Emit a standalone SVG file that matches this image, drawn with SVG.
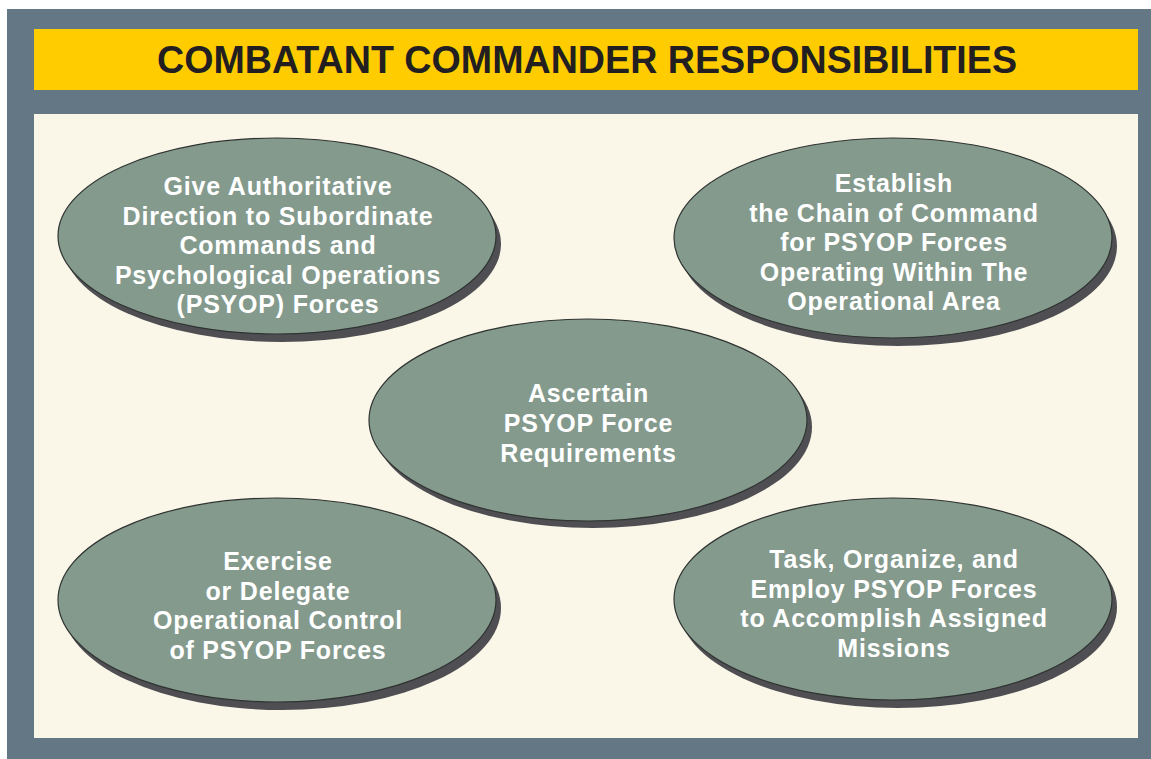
<svg xmlns="http://www.w3.org/2000/svg" width="1151" height="759" viewBox="0 0 1151 759">
<defs>
<style>
.shadow{fill:#4f4f53;}
.node{fill:#849a8d;stroke:#2f3331;stroke-width:1.2;}
.lbl{font-family:"Liberation Sans",Arial,sans-serif;font-weight:bold;font-size:25px;letter-spacing:0.8px;fill:#ffffff;text-anchor:middle;}
.title{font-family:"Liberation Sans",Arial,sans-serif;font-weight:bold;font-size:38px;fill:#231f20;text-anchor:middle;}
</style>
</defs>
<rect x="0" y="0" width="1151" height="759" fill="#ffffff"/>
<rect x="7" y="9" width="1144" height="750" fill="#647784"/>
<rect x="34" y="29" width="1104" height="61" fill="#ffcc00"/>
<text class="title" x="587" y="73" textLength="860" lengthAdjust="spacingAndGlyphs">COMBATANT COMMANDER RESPONSIBILITIES</text>
<rect x="34" y="114" width="1104" height="624" fill="#faf6e8"/>
<g id="connectors"></g>
<g id="node-authoritative">
<ellipse class="shadow" cx="282" cy="244" rx="219" ry="98"/>
<ellipse class="node" cx="277" cy="236" rx="219" ry="98"/>
<text class="lbl" x="278" y="195">Give Authoritative</text>
<text class="lbl" x="278" y="224.5">Direction to Subordinate</text>
<text class="lbl" x="278" y="254">Commands and</text>
<text class="lbl" x="278" y="283.5">Psychological Operations</text>
<text class="lbl" x="278" y="313">(PSYOP) Forces</text>
</g>
<g id="node-chain">
<ellipse class="shadow" cx="898" cy="246" rx="219" ry="100"/>
<ellipse class="node" cx="893" cy="238" rx="219" ry="100"/>
<text class="lbl" x="894" y="192">Establish</text>
<text class="lbl" x="894" y="221.5">the Chain of Command</text>
<text class="lbl" x="894" y="251">for PSYOP Forces</text>
<text class="lbl" x="894" y="280.5">Operating Within The</text>
<text class="lbl" x="894" y="310">Operational Area</text>
</g>
<g id="node-ascertain">
<ellipse class="shadow" cx="593" cy="427" rx="219" ry="101"/>
<ellipse class="node" cx="588" cy="420" rx="219" ry="101"/>
<text class="lbl" x="588.5" y="402">Ascertain</text>
<text class="lbl" x="588.5" y="432">PSYOP Force</text>
<text class="lbl" x="588.5" y="462">Requirements</text>
</g>
<g id="node-exercise">
<ellipse class="shadow" cx="282" cy="608" rx="219" ry="102"/>
<ellipse class="node" cx="277" cy="600" rx="219" ry="102"/>
<text class="lbl" x="278" y="570">Exercise</text>
<text class="lbl" x="278" y="599.5">or Delegate</text>
<text class="lbl" x="278" y="629">Operational Control</text>
<text class="lbl" x="278" y="658.5">of PSYOP Forces</text>
</g>
<g id="node-task">
<ellipse class="shadow" cx="898" cy="607" rx="219" ry="101"/>
<ellipse class="node" cx="893" cy="599" rx="219" ry="101"/>
<text class="lbl" x="894" y="568">Task, Organize, and</text>
<text class="lbl" x="894" y="597.5">Employ PSYOP Forces</text>
<text class="lbl" x="894" y="627">to Accomplish Assigned</text>
<text class="lbl" x="894" y="656.5">Missions</text>
</g>
</svg>
